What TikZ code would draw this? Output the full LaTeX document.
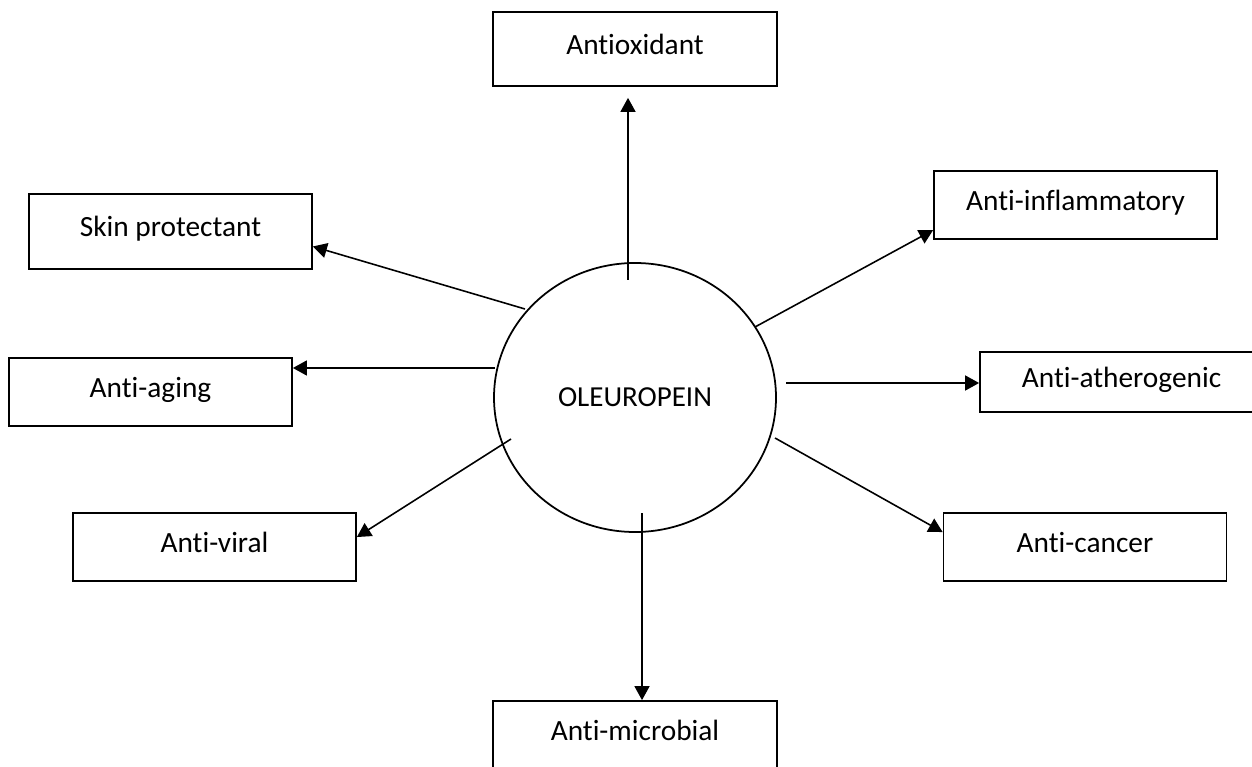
\documentclass[tikz,border=0pt]{standalone}
\usepackage{fontspec}
\setmainfont{Carlito}[Ligatures=NoCommon]
\usetikzlibrary{arrows.meta,shapes.geometric}

\begin{document}
\begin{tikzpicture}[
effect/.style={draw,line width=1pt,minimum width=5.66cm,minimum height=1.36cm,inner sep=0pt,text height=0.5cm,text depth=0.28cm,font=\fontsize{16.7}{20}\selectfont},
hub/.style={draw,ellipse,line width=1pt,minimum width=5.64cm,minimum height=5.38cm,inner sep=0pt,font=\fontsize{16.5}{20}\selectfont},
arrow/.style={-{Triangle[length=0.28cm,width=0.3cm]},line width=0.9pt} ]

\useasboundingbox (0,0) rectangle (25.04,-15.34);

\node[hub](core) at (12.70,-7.95) {OLEUROPEIN};

\node[effect,minimum width=5.68cm,minimum height=1.48cm](antiox) at (12.70,-0.98) {Antioxidant};

\node[effect,minimum height=1.50cm](skin) at (3.41,-4.63) {Skin protectant};

\node[effect](infl) at (21.51,-4.10) {Anti-inflammatory};

\node[effect](aging) at (3.01,-7.84) {Anti-aging};

\node[effect,minimum height=1.20cm](athero) at (22.43,-7.64) {Anti-atherogenic};

\node[effect](viral) at (4.29,-10.94) {Anti-viral};

\node[effect](cancer) at (21.70,-10.94) {Anti-cancer};

\node[effect,minimum width=5.68cm](micro) at (12.70,-14.70) {Anti-microbial};

\coordinate (fromAntiox) at (12.56,-5.60);
\coordinate (fromSkin) at (10.50,-6.18);
\coordinate (fromInfl) at (15.10,-6.54);
\coordinate (fromAging) at (9.90,-7.36);
\coordinate (fromAthero) at (15.72,-7.66);
\coordinate (fromViral) at (10.22,-8.78);
\coordinate (fromCancer) at (15.50,-8.76);
\coordinate (fromMicro) at (12.84,-10.26);

\draw[arrow,shorten >=0.22cm] (fromAntiox) -- (fromAntiox |- antiox.south);

\draw[arrow] (fromSkin) -- (skin.-6);

\draw[arrow] (fromInfl) -- (infl.190);

\draw[arrow] (fromAging) -- (fromAging -| aging.east);

\draw[arrow] (fromAthero) -- (fromAthero -| athero.west);

\draw[arrow] (fromViral) -- (viral.4);

\draw[arrow] (fromCancer) -- (cancer.174);

\draw[arrow] (fromMicro) -- (fromMicro |- micro.north);

\end{tikzpicture}
\end{document}
